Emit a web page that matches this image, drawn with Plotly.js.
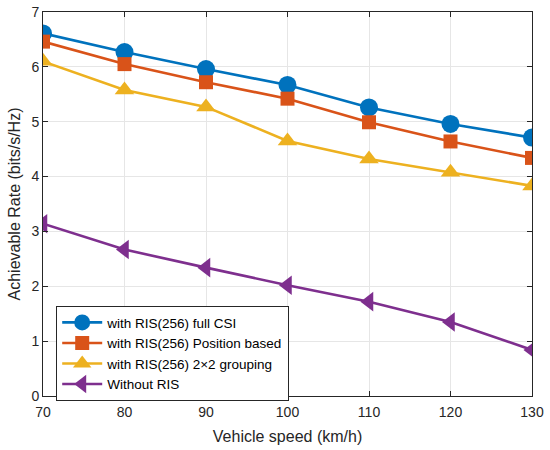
<!DOCTYPE html>
<html><head><meta charset="utf-8">
<script src="https://cdn.plot.ly/plotly-3.0.1.min.js"></script>
<style>html,body{margin:0;padding:0;background:#fff}#chart{width:550px;height:450px}</style>
</head><body><div id="chart"></div>
<script>
const speeds = [70, 80, 90, 100, 110, 120, 130];
const fullCSI = [6.61, 6.27, 5.96, 5.67, 5.26, 4.96, 4.71];
const positionBased = [6.46, 6.05, 5.72, 5.42, 4.99, 4.64, 4.34];
const grouping2x2 = [6.10, 5.58, 5.27, 4.65, 4.32, 4.08, 3.83];
const withoutRIS = [3.14, 2.67, 2.34, 2.02, 1.72, 1.35, 0.84];
const seriesNames = ["with RIS(256) full CSI", "with RIS(256) Position based", "with RIS(256) 2\u00d72 grouping", "Without RIS"];
const xTicks = [70, 80, 90, 100, 110, 120, 130];
const yTicks = [0, 1, 2, 3, 4, 5, 6, 7];

const colors = ["#0072BD", "#D95319", "#EDB120", "#7E2F8E"];
const symbols = ["circle", "square", "triangle-up", "triangle-left"];
const sizes = [18, 14, 17, 17];
const data = [fullCSI, positionBased, grouping2x2, withoutRIS].map((ys, i) => ({
  x: speeds, y: ys, name: seriesNames[i], type: "scatter", mode: "lines+markers",
  line: {color: colors[i], width: 2.6},
  marker: {color: colors[i], symbol: symbols[i], size: sizes[i], line: {width: 0}}
}));

const font = "Arial, Liberation Sans, sans-serif";
const axisCommon = {
  showline: true, mirror: "ticks", linecolor: "#262626", linewidth: 1,
  ticks: "inside", ticklen: 5, tickcolor: "#262626",
  showgrid: true, gridcolor: "#E6E6E6", gridwidth: 1, zeroline: false,
  tickfont: {family: font, size: 14, color: "#262626"}
};
const layout = {
  width: 550, height: 450,
  margin: {l: 43, r: 18, t: 12, b: 54},
  paper_bgcolor: "#fff", plot_bgcolor: "#fff",
  showlegend: true,
  xaxis: Object.assign({}, axisCommon, {
    range: [70, 130], tickvals: xTicks, ticklabelstandoff: 3,
    title: {text: "Vehicle speed (km/h)", standoff: 12, font: {family: font, size: 16, color: "#262626"}}
  }),
  yaxis: Object.assign({}, axisCommon, {
    range: [0, 7], tickvals: yTicks,
    title: {text: "Achievable Rate (bits/s/Hz)", standoff: 6, font: {family: font, size: 16, color: "#262626"}}
  }),
  legend: {
    x: 0.027, y: 0.234, xanchor: "left", yanchor: "top",
    bgcolor: "#fff", bordercolor: "#262626", borderwidth: 1,
    font: {family: font, size: 13.5, color: "#000"},
    tracegroupgap: 0, itemwidth: 40
  }
};
Plotly.newPlot("chart", data, layout, {displayModeBar: false, staticPlot: true});
</script>
</body></html>
